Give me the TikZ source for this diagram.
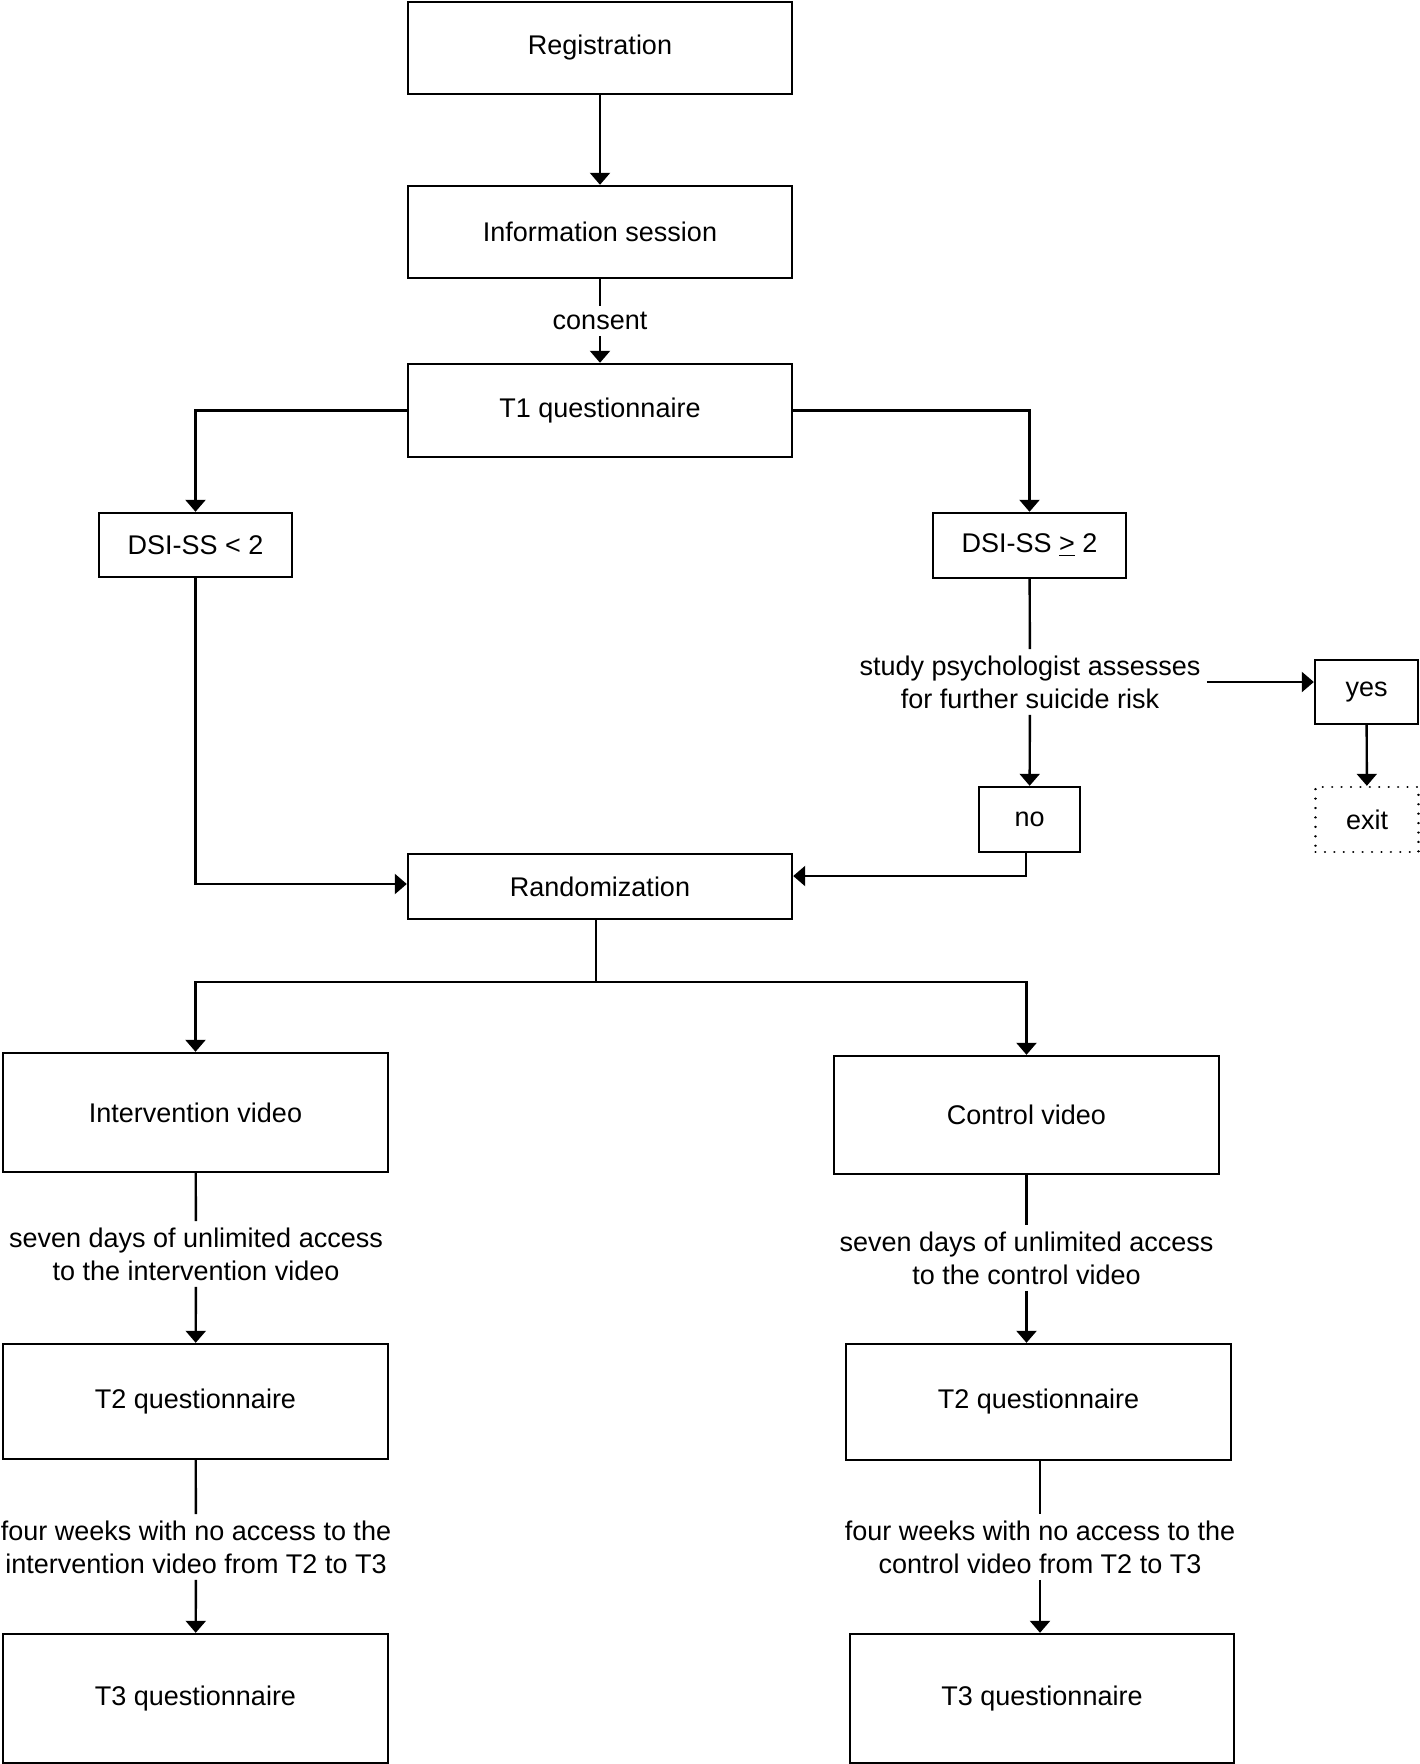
\documentclass[tikz,border=0pt]{standalone}
\usepackage{fontspec}
\setmainfont{Liberation Sans}
\usetikzlibrary{arrows.meta}

\begin{document}
\begin{tikzpicture}[x=0.5pt,y=0.5pt,yscale=-1,xscale=1,
  stage/.style={draw, line width=1.2pt, rectangle, inner sep=0pt, align=center, font=\fontsize{13.5}{16.5}\selectfont},
  note/.style={inner sep=3pt, align=center, font=\fontsize{13.5}{16.5}\selectfont},
  wire/.style={line width=1.2pt},
  flow/.style={wire, -{Triangle[width=10pt,length=6pt]}}]
\useasboundingbox (0,0) rectangle (1419,1764);

% Text Node
\node [stage, minimum width=192pt, minimum height=46pt] (reg) at (600,48) {Registration};
\node [stage, minimum width=192pt, minimum height=46pt] (info) at (600,232) {Information session};
\node [note] (consent) at (600,321) {consent};
\node [stage, minimum width=192pt, minimum height=46.5pt] (t1) at (600,410.5) {T1 questionnaire};
% Text Node
\node [stage, minimum width=96.5pt, minimum height=32pt] (dlow) at (195.5,545) {DSI-SS < 2};
\node [stage, minimum width=96.5pt, minimum height=32.5pt] (dhigh) at (1029.5,545.5) {DSI-SS \underline{>} 2};
\node [note] (assess) at (1030,682) {study psychologist assesses\\for further suicide risk};
\node [stage, minimum width=51.5pt, minimum height=32pt] (yes) at (1366.5,692) {yes};
\node [stage, minimum width=50.5pt, minimum height=32.5pt] (no) at (1029.5,819.5) {no};
\node [stage, minimum width=51.5pt, minimum height=32.5pt, dash pattern={on 0.01pt off 4.7pt}, line cap=round] (exit) at (1367,819.5) {exit};
\node [stage, minimum width=192pt, minimum height=32.5pt] (rand) at (600,886.5) {Randomization};
% Text Node
\node [stage, minimum width=192.5pt, minimum height=59.5pt] (intv) at (195.5,1112.5) {Intervention video};
\node [note] (sevenL) at (196,1254) {seven days of unlimited access\\to the intervention video};
\node [stage, minimum width=192.5pt, minimum height=57.5pt] (t2a) at (195.5,1401.5) {T2 questionnaire};
\node [note] (fourL) at (196,1547) {four weeks with no access to the\\intervention video from T2 to T3};
\node [stage, minimum width=192.5pt, minimum height=64.5pt] (t3a) at (195.5,1698.5) {T3 questionnaire};
% Text Node
\node [stage, minimum width=192.5pt, minimum height=59pt] (ctrl) at (1026.5,1115) {Control video};
\node [note] (sevenR) at (1026.5,1258) {seven days of unlimited access\\to the control video};
\node [stage, minimum width=192.5pt, minimum height=58pt] (t2b) at (1038.5,1402) {T2 questionnaire};
\node [note] (fourR) at (1040,1547) {four weeks with no access to the\\control video from T2 to T3};
\node [stage, minimum width=192pt, minimum height=64.5pt] (t3b) at (1042,1698.5) {T3 questionnaire};

\coordinate (fork) at (596,982);

%Straight Lines
\draw [flow] (reg) -- (info);
\draw [wire] (info) -- (consent);
\draw [flow] (consent) -- (t1);
\draw [flow] (t1.west) -| (dlow.north);
\draw [flow] (t1.east) -| (dhigh.north);
\draw [wire] (dhigh) -- (assess);
\draw [flow] (assess) -- (no);
\draw [flow] (assess.east) -- (assess.east -| yes.west);
\draw [flow] (yes) -- (exit);
\draw [flow] (dlow.south) |- ([yshift=-1.25pt]rand.west);
\draw [flow] ([xshift=-1.75pt]no.south) |- ([yshift=-5.25pt]rand.east);
%Straight Lines
\draw [wire] (rand.south -| fork) -- (fork);
\draw [flow] (fork) -| (intv.north);
\draw [flow] (fork) -| (ctrl.north);
\draw [wire] (intv) -- (sevenL);
\draw [flow] (sevenL) -- (t2a);
\draw [wire] (t2a) -- (fourL);
\draw [flow] (fourL) -- (t3a);
\draw [wire] (ctrl) -- (sevenR);
\draw [flow] (sevenR) -- (sevenR |- t2b.north);
\draw [wire] (t2b.south -| fourR) -- (fourR);
\draw [flow] (fourR) -- (fourR |- t3b.north);

\end{tikzpicture}
\end{document}
